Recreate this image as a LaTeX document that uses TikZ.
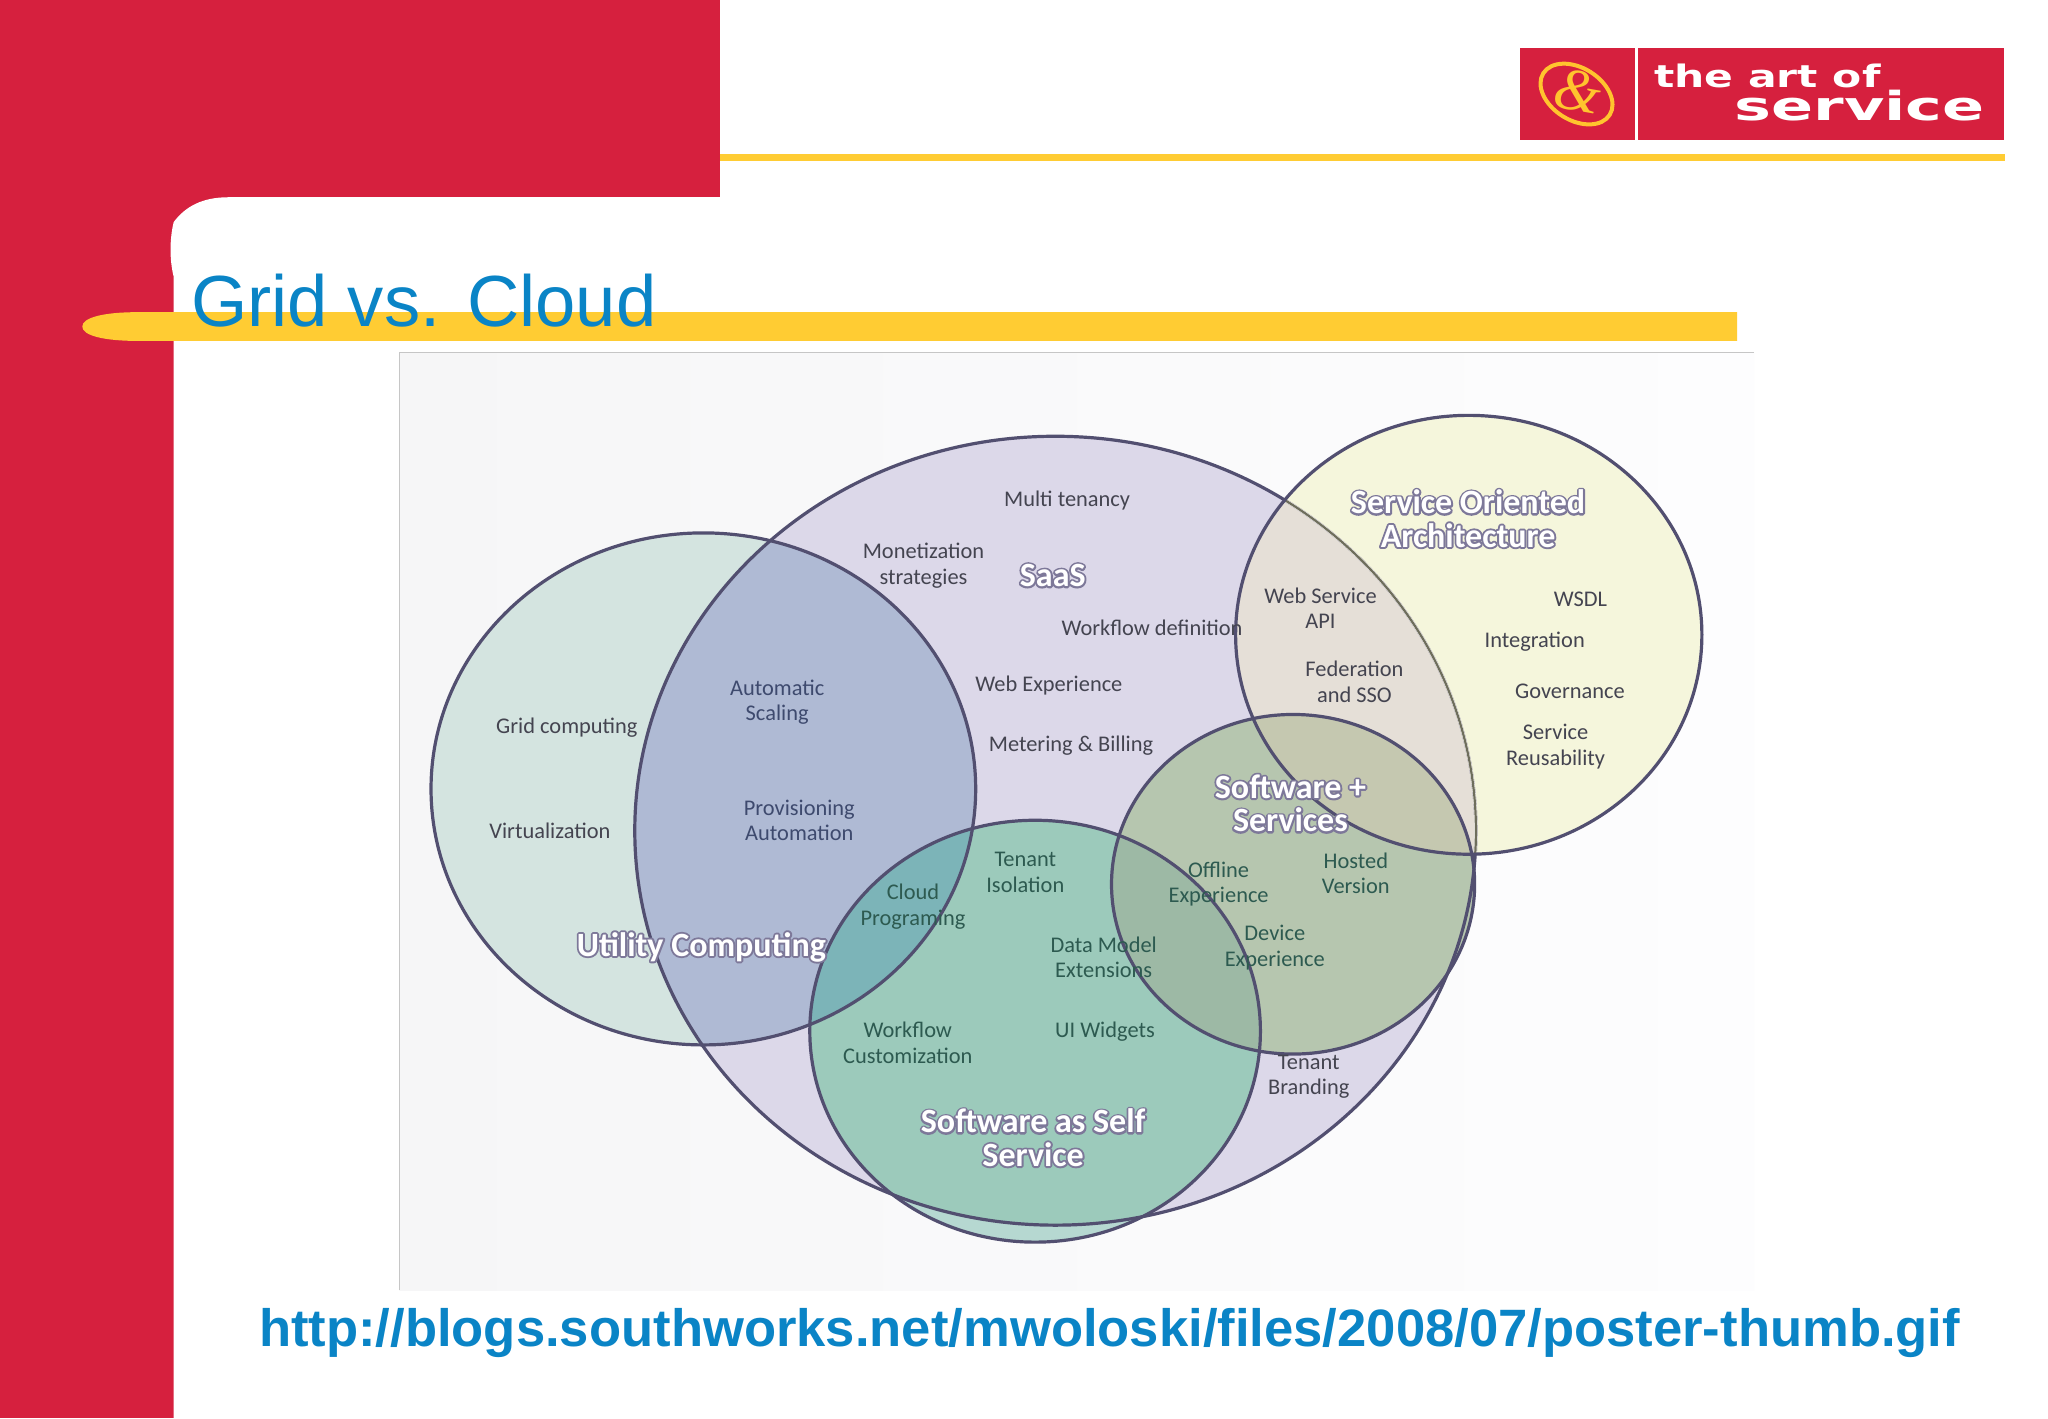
\documentclass[tikz,border=0pt]{standalone}
\usepackage{fontspec}
\setmainfont{Liberation Sans}
\newfontfamily\lblfont{Carlito}
\newfontfamily\logofont{DejaVu Sans}
\newfontfamily\ampfont{Liberation Serif}
\definecolor{halo}{HTML}{7D7899}
\newcommand{\halotext}[1]{\leavevmode\rlap{\textcolor{halo}{\special{pdf:code 0.49 0.47 0.6 RG 1.9 w 1 j 2 Tr}#1\special{pdf:code 0 Tr}}}#1}
\definecolor{redbg}{HTML}{D6203E}
\definecolor{gold}{HTML}{FFCC33}
\definecolor{titleblue}{HTML}{0A84C6}
\definecolor{ringc}{HTML}{524F70}
\definecolor{thinc}{HTML}{6E6E5C}
\definecolor{lbl}{HTML}{444450}
\definecolor{lblg}{HTML}{2D5A50}
\definecolor{lblb}{HTML}{3E4A6E}
\definecolor{cpanelL}{HTML}{F6F6F7}
\definecolor{cpanelR}{HTML}{FDFDFE}
\definecolor{cS}{HTML}{DCD8E9}
\definecolor{cU}{HTML}{D4E4E0}
\definecolor{cUS}{HTML}{AFBAD4}
\definecolor{cO}{HTML}{F5F6DC}
\definecolor{cOS}{HTML}{E5DFD7}
\definecolor{cW}{HTML}{B6D8D1}
\definecolor{cWS}{HTML}{9CCABB}
\definecolor{cWU}{HTML}{7CB4B8}
\definecolor{cP}{HTML}{B6C6AF}
\definecolor{cPO}{HTML}{C5C8B0}
\definecolor{cPW}{HTML}{9DB9A5}
\tikzset{
  x=0.65306pt,y=-0.65306pt,
  lab/.style={font=\lblfont\fontsize{11.2}{12.7}\selectfont,text=lbl,align=center,inner sep=0pt},
  labg/.style={lab,text=lblg},
  labb/.style={lab,text=lblb},
  big/.style={font=\lblfont\bfseries\fontsize{17}{16.7}\selectfont,text=white,align=center,inner sep=0pt},
  ring/.style={draw=ringc,line width=1.6pt},
}
\def\pU{(538.5,604) ellipse [x radius=208.5,y radius=196]}
\def\pS{(808,636) ellipse [x radius=322,y radius=302]}
\def\pO{(1124.5,486) ellipse [x radius=178.5,y radius=168]}
\def\pP{(990,677) ellipse [x radius=139,y radius=130]}
\def\pW{(792.5,789.5) ellipse [x radius=172.5,y radius=161.5]}
\newcommand{\clipfill}[3]{\begin{scope}\clip #1;\clip #2;\fill[#3] (0,0) rectangle (1568,1086);\end{scope}}
\begin{document}
\begin{tikzpicture}
\useasboundingbox (0,0) rectangle (1568,1085.7);
\fill[white] (0,0) rectangle (1568,1085.7);
% slide background
\fill[redbg] (0,0) rectangle (133,1085.7);
\fill[redbg] (0,0) rectangle (551,151);
\fill[redbg] (133,151) rectangle (190,215);
\fill[white] (133,1085.7) -- (133,212) .. controls (129.5,198) and (130,182) .. (133,170)
  .. controls (142,158) and (155,151) .. (175,151) -- (551,151) -- (1568,151) -- (1568,1085.7) -- cycle;
\fill[gold] (551,118) rectangle (1535,123.5);
\fill[gold] (1330,239) -- (105,239) .. controls (80,239) and (63,243) .. (63,250)
  .. controls (63,257) and (80,261) .. (105,261) -- (1330,261) -- cycle;
% logo
\fill[redbg] (1163.5,36.5) rectangle (1251.5,107);
\fill[redbg] (1254,36.5) rectangle (1534,107);
\draw[gold!90!orange,line width=2pt,rotate around={-32:(1207,72)}] (1207,72) ellipse [x radius=30,y radius=20];
\node[inner sep=0pt,text=gold!90!orange,rotate=-10] (amp) at (1208,70) {\ampfont\itshape\fontsize{30}{30}\selectfont\&};
\node[inner sep=0pt,text=white,anchor=base west,xscale=1.37] (logoa) at (1266,67)
  {\logofont\bfseries\fontsize{15.5}{15.5}\selectfont the art of};
\node[inner sep=0pt,text=white,anchor=base east,xscale=1.55] (logob) at (1520,92)
  {\logofont\bfseries\fontsize{20}{20}\selectfont service};
% title
\node[inner sep=0pt,anchor=base west,text=titleblue] (title) at (146,250) {\fontsize{36.2}{37}\selectfont Grid vs. Cloud};
% panel
\fill[left color=cpanelL,right color=cpanelR] (306,270) rectangle (1343,988);
\draw[gray!45,line width=0.7pt] (306,988) -- (306,270) -- (1343,270);
% venn fills
\fill[cS] \pS;
\fill[cU] \pU;
\clipfill{\pU}{\pS}{cUS}
\fill[cO] \pO;
\clipfill{\pO}{\pS}{cOS}
\fill[cW] \pW;
\clipfill{\pW}{\pS}{cWS}
\clipfill{\pW}{\pU}{cWU}
\fill[cP] \pP;
\clipfill{\pP}{\pO}{cPO}
\clipfill{\pP}{\pW}{cPW}
% outlines
\draw[ring] \pS;
\draw[ring] \pU;
\begin{scope}\clip \pO;\draw[draw=cOS!60!white,line width=1.7pt] \pS;\draw[draw=thinc,line width=1.1pt] \pS;\end{scope}
\draw[ring] \pO;
\draw[ring] \pW;
\draw[ring] \pP;
% labels
\node[lab] (n1) at (817,383.5) {Multi tenancy};
\node[lab] (n2) at (707,433) {Monetization\\strategies};
\node[big] (n3) at (806,440.5) {\halotext{SaaS}};
\node[lab] (n4) at (882,481) {Workflow definition};
\node[lab] (n5) at (803,524.5) {Web Experience};
\node[lab] (n6) at (820,570.5) {Metering \& Billing};
\node[labb] (n7) at (595,537.5) {Automatic\\Scaling};
\node[lab] (n8) at (434,557) {Grid computing};
\node[lab] (n9) at (421,636) {Virtualization};
\node[labb] (n10) at (612,628) {Provisioning\\Automation};
\node[big] (n11) at (537,725) {\halotext{Utility Computing}};
\node[labg] (n12) at (699,694) {Cloud\\Programing};
\node[labg] (n13) at (785,668) {Tenant\\Isolation};
\node[labg] (n14) at (845,733) {Data Model\\Extensions};
\node[labg] (n15) at (695,798.5) {Workflow\\Customization};
\node[labg] (n16) at (846,790) {UI Widgets};
\node[big] (n17) at (791,871) {\halotext{Software as Self}\\\halotext{Service}};
\node[big] (n18) at (988,615) {\halotext{Software +}\\\halotext{Services}};
\node[labg] (n19) at (933,677) {Offline\\Experience};
\node[labg] (n20) at (1038,668.5) {Hosted\\Version};
\node[labg] (n21) at (976,725.5) {Device\\Experience};
\node[lab] (n22) at (1002,824.5) {Tenant\\Branding};
\node[big] (n23) at (1124,397) {\halotext{Service Oriented}\\\halotext{Architecture}};
\node[lab] (n24) at (1011,465.5) {Web Service\\API};
\node[lab] (n25) at (1037,522) {Federation\\and SSO};
\node[lab] (n26) at (1210,459) {WSDL};
\node[lab] (n27) at (1175,491) {Integration};
\node[lab] (n28) at (1202,529) {Governance};
\node[lab] (n29) at (1191,571.5) {Service\\Reusability};
% url
\node[inner sep=0pt,anchor=base west,text=titleblue] (url) at (198,1031)
 {\bfseries\fontsize{26.3}{27}\selectfont http://blogs.southworks.net/mwoloski/files/2008/07/poster-thumb.gif};
\end{tikzpicture}
\end{document}
